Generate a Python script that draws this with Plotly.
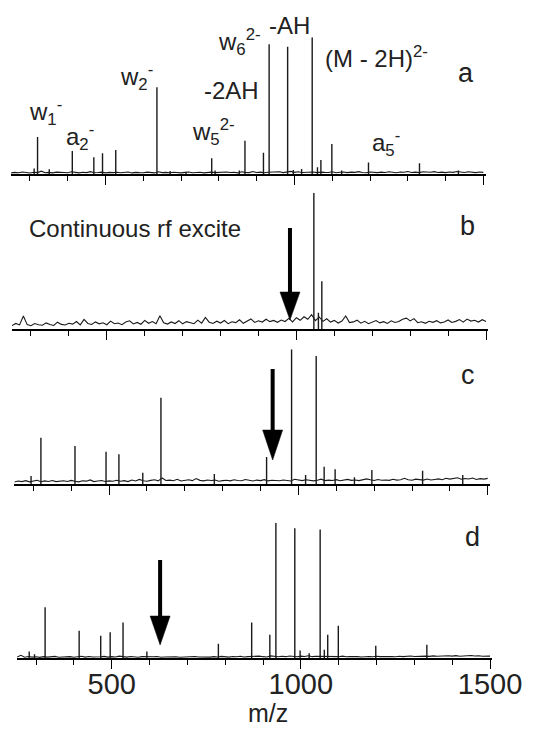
import plotly.graph_objects as go

W, H = 541, 729

# ---------------- data ----------------
noise_mz_start, noise_mz_step = 250, 10

noise_a = [0.8,1.2,0.9,1.5,1.1,0.7,1.3,1.0,2.1,0.9,1.2,0.8,1.4,1.0,
           1.1,0.9,1.6,1.2,0.8,1.3,1.0,1.7,0.9,1.1,1.4,0.8,1.2,1.0,
           1.3,0.9,1.1,1.5,0.8,1.2,1.0,0.9,1.4,1.1,0.8,1.6,1.0,1.2,
           0.9,1.3,1.1,0.8,1.2,1.5,0.9,1.0,1.3,0.8,1.1,1.4,1.0,1.2,
           0.9,1.5,1.1,1.3,0.8,1.6,1.2,1.0,1.8,1.1,1.4,0.9,1.3,1.5,
           1.2,1.7,1.0,1.4,1.9,1.2,1.6,1.1,1.3,1.8,1.5,1.0,1.4,1.2,
           1.1,1.6,0.9,1.3,1.5,1.0,1.4,1.2,1.7,1.1,0.9,1.5,1.3,1.0,
           1.4,1.1,1.6,1.2,0.9,1.5,1.3,1.8,1.1,1.4,1.0,1.6,1.2,1.3,
           1.7,1.1,1.4,1.0,1.5,1.2,1.8,1.3,1.1,1.6,1.4,1.0,1.5,1.2]

noise_b = [2.5,4.1,3.0,9.5,3.2,2.4,4.0,3.1,2.8,4.5,3.3,2.6,5.0,3.4,
           2.9,4.2,3.6,5.5,3.0,7.0,4.1,3.3,5.2,3.8,4.6,3.1,5.8,3.9,
           4.4,3.2,5.1,6.0,3.7,4.8,3.5,6.3,4.2,5.5,3.9,9.8,4.5,3.6,
           5.2,4.0,6.1,3.8,5.4,4.6,3.9,6.5,4.3,8.5,5.0,4.1,5.7,4.4,
           6.2,3.9,5.3,4.7,6.8,4.2,5.6,7.4,4.8,6.0,5.1,7.2,5.4,6.3,
           4.9,6.6,5.5,7.8,5.2,8.3,6.4,9.0,7.1,10.5,6.2,8.8,5.6,7.5,
           5.1,6.3,4.4,5.8,9.6,4.7,5.2,6.5,4.3,5.6,3.9,5.0,6.2,4.5,
           5.4,4.1,6.0,4.8,5.5,7.2,8.0,5.9,7.6,4.6,5.3,4.2,5.7,4.9,
           6.1,4.5,5.2,6.6,4.8,5.6,6.9,5.0,7.3,5.8,6.4,5.1,6.8,5.5]

noise_c = [1.5,2.2,1.8,2.5,1.6,2.0,2.8,1.7,2.3,1.9,2.6,1.8,2.1,2.4,
           1.9,2.7,2.0,1.6,2.4,2.1,3.0,1.8,2.2,2.6,1.9,2.3,2.0,2.8,
           2.1,2.5,1.8,2.9,2.2,3.4,2.4,2.0,2.7,3.1,2.3,4.5,2.6,2.9,
           2.4,3.5,2.2,2.8,3.2,2.5,4.0,2.7,2.3,3.0,2.6,2.9,2.1,2.5,
           2.8,2.3,3.1,2.6,2.4,3.3,2.7,2.2,2.9,2.5,3.2,2.3,2.8,2.6,
           2.4,3.0,2.7,2.2,3.5,2.9,2.5,3.1,2.6,2.3,2.8,3.6,2.5,2.9,
           2.6,3.2,2.4,2.8,3.4,2.7,3.0,2.5,2.9,3.8,3.1,2.6,3.3,2.8,
           3.0,2.7,3.5,2.9,3.2,4.2,3.1,2.8,3.6,3.3,2.9,3.7,3.0,3.4,
           3.8,3.2,4.3,3.6,3.9,4.6,3.5,4.1,3.7,4.4,3.4,4.0,3.6,4.2]

noise_d = [1.0,2.2,0.8,1.3,0.9,1.1,0.7,1.2,0.9,1.0,1.4,0.8,1.1,0.9,
           1.2,0.8,1.0,1.5,0.9,1.3,1.0,0.8,1.1,1.4,0.9,1.2,1.0,1.6,
           1.1,0.9,1.3,1.0,0.8,1.2,1.0,0.9,1.1,1.3,0.8,1.0,1.2,0.9,
           1.1,0.8,1.0,1.2,0.9,1.3,1.0,0.8,1.1,0.9,1.2,1.0,1.4,1.1,
           0.9,1.3,1.1,1.5,1.0,1.2,1.4,1.1,1.6,1.2,1.0,1.8,1.3,1.1,
           1.5,1.2,1.7,1.4,1.1,1.6,1.3,1.9,1.2,1.5,1.4,1.7,1.3,1.6,
           1.4,1.2,1.6,1.1,1.3,1.5,1.2,1.0,1.4,1.3,1.1,1.5,1.2,1.4,
           1.6,1.3,1.1,1.5,1.2,1.4,1.7,1.3,1.5,1.2,1.6,1.4,1.8,1.5,
           1.7,1.4,1.9,1.6,2.0,1.5,1.8,1.6,2.1,1.7,1.9,1.5,1.8,1.6]

peaks_a_mz = [311, 320, 351, 412, 469, 492, 527, 636, 671, 713, 781, 790, 854, 869,
              918, 933, 982, 997, 1019, 1047, 1061, 1070, 1099, 1125, 1196, 1331, 1434]
peaks_a_h = [4, 27, 3.4, 16.8, 12.2, 15.1, 17.6, 63.4, 2.2, 1.5, 11.5, 2.5, 2.5, 24.4,
             15.6, 94.9, 93.1, 3, 3.7, 100, 5, 10.2, 21.9, 2.5, 8.5, 7.8, 2.5]

peaks_b_mz = [1046, 1058, 1067]
peaks_b_h = [100, 12, 35]

peaks_c_mz = [294, 320, 410, 492, 526, 589, 637, 778, 916, 982, 1019, 1047, 1068,
              1097, 1148, 1194, 1328, 1434]
peaks_c_h = [6, 34.4, 28.2, 24, 22, 8.4, 64, 7.4, 20, 100, 6.7, 95, 12.8,
             10.9, 5, 10.4, 9.9, 6.7]

peaks_d_mz = [282, 296, 324, 414, 471, 496, 530, 593, 782, 870, 918, 934, 984, 998,
              1022, 1051, 1062, 1071, 1099, 1198, 1333]
peaks_d_h = [5, 3, 37.7, 20.3, 16.6, 19.3, 26.4, 5, 10.7, 26.4, 17.3, 100, 95.9, 5.7,
             3.8, 95, 6.3, 17.3, 24, 9.2, 10]

# arrows: (m/z, tip intensity)
arrow_b = (983, 6.6)
arrow_c = (932, 17.8)
arrow_d = (628, 9.8)

x_tick_labels = ["500", "1000", "1500"]
x_tick_vals = [500, 1000, 1500]
x_title = "m/z"
panel_letters = ["a", "b", "c", "d"]

# ---------------- layout geometry (pixels) ----------------
panel_px = [
    (11.1, 485.6, 174.0, 37.3),
    (12.0, 488.3, 329.0, 192.7),
    (14.4, 490.0, 484.0, 349.3),
    (17.1, 492.3, 658.3, 522.7),
]
XRANGE = [250, 1506]

fig = go.Figure()
LINE = "#1a1a1a"
FONT = "Liberation Sans, Arial"
TXT = "#222"

panels = [
    (noise_a, peaks_a_mz, peaks_a_h),
    (noise_b, peaks_b_mz, peaks_b_h),
    (noise_c, peaks_c_mz, peaks_c_h),
    (noise_d, peaks_d_mz, peaks_d_h),
]

for i, (noise, pmz, ph) in enumerate(panels):
    sfx = "" if i == 0 else str(i + 1)
    nx = [noise_mz_start + noise_mz_step * k for k in range(len(noise))]
    fig.add_trace(go.Scatter(x=nx, y=noise, mode="lines",
                             line=dict(color=LINE, width=1.1),
                             xaxis="x" + sfx, yaxis="y" + sfx,
                             showlegend=False, hoverinfo="skip"))
    sx, sy = [], []
    for m, h in zip(pmz, ph):
        sx += [m, m, None]
        sy += [0, h, None]
    fig.add_trace(go.Scatter(x=sx, y=sy, mode="lines",
                             line=dict(color=LINE, width=1.4),
                             xaxis="x" + sfx, yaxis="y" + sfx,
                             showlegend=False, hoverinfo="skip"))

    xl, xr, yb, yt = panel_px[i]
    xa = dict(domain=[xl / W, xr / W], range=XRANGE, anchor="y" + sfx,
              automargin=False,
              showline=True, linecolor="black", linewidth=1.6,
              ticks="outside", ticklen=9, tickwidth=1.2, tickcolor="black",
              tickmode="array", tickvals=x_tick_vals,
              ticktext=x_tick_labels, ticklabelstandoff=-10,
              minor=dict(tickmode="linear", tick0=0, dtick=100, ticks="outside",
                         ticklen=5, tickwidth=1, tickcolor="black"),
              showgrid=False, zeroline=False,
              showticklabels=(i == 3),
              tickfont=dict(family=FONT, size=29, color=TXT))
    ya = dict(domain=[1 - yb / H, 1 - yt / H], range=[0, 100], anchor="x" + sfx,
              visible=False, automargin=False)
    fig.update_layout(**{"xaxis" + sfx: xa, "yaxis" + sfx: ya})

# axis title of the bottom panel
fig.add_annotation(text=x_title, xref="paper", yref="paper", x=268 / W, y=1 - 713 / H,
                   xanchor="center", yanchor="middle", showarrow=False,
                   font=dict(family=FONT, size=25, color=TXT))

# ---------------- arrows (shapes in pixel size mode) ----------------
for (m, tip), sfx, shaft, head in [(arrow_b, "2", 92, 28), (arrow_c, "3", 91, 30),
                                    (arrow_d, "4", 85, 29)]:
    fig.add_shape(type="line", xref="x" + sfx, yref="y" + sfx,
                  xsizemode="pixel", ysizemode="pixel", xanchor=m, yanchor=tip,
                  x0=0, x1=0, y0=head - 2, y1=shaft,
                  line=dict(color="black", width=4))
    fig.add_shape(type="path", xref="x" + sfx, yref="y" + sfx,
                  xsizemode="pixel", ysizemode="pixel", xanchor=m, yanchor=tip,
                  path=f"M -10,{head} L 10,{head} L 0,0 Z",
                  fillcolor="black", line=dict(color="black", width=0.5))

# ---------------- text labels ----------------
labels = [
    # text, left px, center y px, size
    ("w<sub>1</sub><sup>-</sup>", 26.7, 112, 24),
    ("a<sub>2</sub><sup>-</sup>", 64, 137, 24),
    ("w<sub>2</sub><sup>-</sup>", 118, 77, 24),
    ("-2AH", 202, 90, 24),
    ("w<sub>5</sub><sup>2-</sup>", 190, 132, 24),
    ("w<sub>6</sub><sup>2-</sup>", 216, 42, 24),
    ("-AH", 266.7, 25, 24),
    ("(M - 2H)<sup>2-</sup>", 323, 57, 24),
    ("a<sub>5</sub><sup>-</sup>", 370, 143, 24),
    ("Continuous rf excite", 26.7, 229, 24),
]
for t, lx, cy, s in labels:
    fig.add_annotation(text=t, xref="paper", yref="paper", x=lx / W, y=1 - cy / H,
                       xanchor="left", yanchor="middle", showarrow=False,
                       font=dict(family=FONT, size=s, color=TXT))

letter_pos = [(466, 73), (467, 226), (468, 375), (472, 537)]
for t, (cx, cy) in zip(panel_letters, letter_pos):
    fig.add_annotation(text=t, xref="paper", yref="paper", x=cx / W, y=1 - cy / H,
                       xanchor="center", yanchor="middle", showarrow=False,
                       font=dict(family=FONT, size=27, color=TXT))

fig.update_layout(width=W, height=H, margin=dict(l=0, r=0, t=0, b=0),
                  paper_bgcolor="white", plot_bgcolor="white",
                  template="none")

fig.write_html("out.html")
